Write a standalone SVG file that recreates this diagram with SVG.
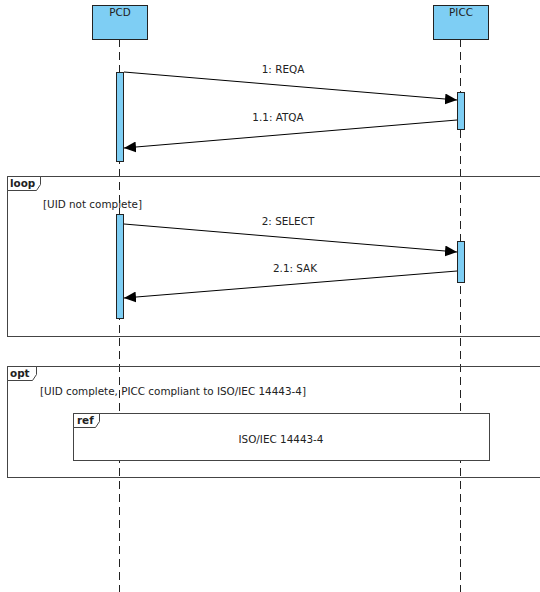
<svg xmlns="http://www.w3.org/2000/svg" width="540" height="592" viewBox="0 0 540 592">
<style>
text{font-family:"DejaVu Sans",sans-serif;font-size:10.4px;fill:#222}
.b{font-weight:bold}
.life{stroke:#222;stroke-width:1;stroke-dasharray:8,5;fill:none}
.head{fill:#7ecef4;stroke:#222;stroke-width:1}
.act{fill:#7ecef4;stroke:#222;stroke-width:1}
.frame{fill:none;stroke:#444;stroke-width:1}
.tab{fill:#fff;stroke:#444;stroke-width:1}
.msg{stroke:#000;stroke-width:1;fill:none;marker-end:url(#arr)}
</style>
<defs>
<marker id="arr" markerWidth="12" markerHeight="11" refX="12" refY="5.5" orient="auto" markerUnits="userSpaceOnUse">
<path d="M0,0 L12,5.5 L0,11 Z" fill="#000"/>
</marker>
</defs>
<rect width="540" height="592" fill="#fff"/>
<g id="lifelines">
<line class="life" x1="119.5" y1="39" x2="119.5" y2="592"/>
<line class="life" x1="460.5" y1="39" x2="460.5" y2="592"/>
</g>
<g id="PCD">
<rect class="head" x="92.5" y="5.5" width="55" height="34"/>
<text x="120" y="16" text-anchor="middle">PCD</text>
</g>
<g id="PICC">
<rect class="head" x="433.5" y="5.5" width="55" height="34"/>
<text x="461" y="16" text-anchor="middle">PICC</text>
</g>
<g id="loop">
<rect class="frame" x="7.5" y="176.5" width="560" height="160"/>
<path class="tab" d="M7.5,176.5 H40.5 V184.5 L36.5,190.5 H7.5 Z"/>
<text class="b" x="10" y="187">loop</text>
<text x="43" y="208">[UID not complete]</text>
</g>
<g id="opt">
<rect class="frame" x="7.5" y="366.5" width="560" height="111"/>
<path class="tab" d="M7.5,366.5 H36.5 V374.5 L32.5,380.5 H7.5 Z"/>
<text class="b" x="10" y="377">opt</text>
<text x="40" y="395">[UID complete, PICC compliant to ISO/IEC 14443-4]</text>
</g>
<g id="ref">
<rect x="73.5" y="413.5" width="416" height="47" fill="#fff" stroke="#444"/>
<path class="tab" d="M73.5,413.5 H99.5 V421.5 L95.5,427.5 H73.5 Z"/>
<text class="b" x="77" y="424">ref</text>
<text x="281" y="443" text-anchor="middle">ISO/IEC 14443-4</text>
</g>
<g id="activations">
<rect class="act" x="116.5" y="72.5" width="7" height="89"/>
<rect class="act" x="457.5" y="92.5" width="7" height="37"/>
<rect class="act" x="116.5" y="214.5" width="7" height="104"/>
<rect class="act" x="457.5" y="241.5" width="7" height="41"/>
</g>
<g id="connectors">
<line class="msg" x1="124" y1="72" x2="457" y2="100"/>
<line class="msg" x1="457" y1="120" x2="124" y2="148"/>
<line class="msg" x1="124" y1="224" x2="457" y2="252"/>
<line class="msg" x1="457" y1="271" x2="124" y2="298"/>
</g>
<g id="labels">
<text x="283" y="73" text-anchor="middle">1: REQA</text>
<text x="278" y="121" text-anchor="middle">1.1: ATQA</text>
<text x="288" y="225" text-anchor="middle">2: SELECT</text>
<text x="295" y="272" text-anchor="middle">2.1: SAK</text>
</g>
</svg>
